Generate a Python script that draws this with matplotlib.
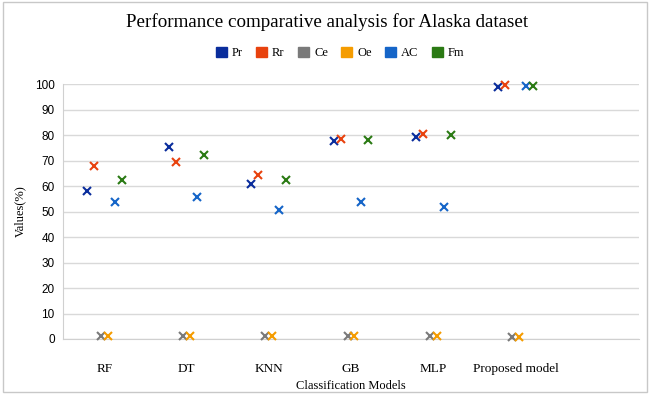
import matplotlib
matplotlib.use("Agg")
import matplotlib.pyplot as plt
import numpy as np
from matplotlib.patches import Rectangle, Patch

models = ["RF", "DT", "KNN", "GB", "MLP", "Proposed model"]
series = ["Pr", "Rr", "Ce", "Oe", "AC", "Fm"]
pr = [58.1, 75.2, 60.7, 77.7, 79.3, 98.8]
rr = [67.7, 69.4, 64.5, 78.5, 80.5, 99.6]
ce = [1.3, 1.3, 1.3, 1.3, 1.3, 0.9]
oe = [1.2, 1.2, 1.2, 1.2, 1.2, 0.8]
ac = [53.9, 55.6, 50.7, 53.8, 51.6, 99.2]
fm = [62.4, 72.3, 62.4, 77.9, 80.0, 99.3]
colors = ["#0a2d9c", "#e8420e", "#7a7a7a", "#f59c00", "#1565c8", "#2b7a14"]

values = [pr, rr, ce, oe, ac, fm]

fig = plt.figure(figsize=(6.5, 3.94), dpi=100)
fig.patch.set_facecolor("white")
fig.add_artist(Rectangle((0.004, 0.004), 0.992, 0.992, transform=fig.transFigure,
                         fill=False, edgecolor="#c8c8c8", linewidth=1.0))

ax = fig.add_axes([0.097, 0.1396, 0.886, 0.647])
ncat = 7
ax.set_xlim(-0.5, ncat - 0.5)
ax.set_ylim(0, 100)
ax.set_yticks(np.arange(0, 101, 10))
ax.yaxis.grid(True, color="#d9d9d9", linewidth=1.0)
ax.set_axisbelow(True)
for s in ["top", "right"]:
    ax.spines[s].set_visible(False)
ax.spines["left"].set_color("#d0d0d0")
ax.spines["bottom"].set_color("#d0d0d0")
ax.tick_params(axis="both", length=0)
ax.tick_params(axis="y", labelsize=8.5, pad=6)
for lbl in ax.get_yticklabels():
    lbl.set_fontfamily("Liberation Sans")

x = np.arange(len(models))
step = 0.085
for k, (name, vals, c) in enumerate(zip(series, values, colors)):
    off = (k - 2.5) * step
    ax.plot(x + off, vals, linestyle="none", marker="x", markersize=5.5,
            markeredgewidth=1.5, color=c, clip_on=False, zorder=3)

ax.set_xticks(x)
ax.set_xticklabels(models, fontfamily="Liberation Serif", fontsize=9.5)
ax.tick_params(axis="x", pad=17)
ax.set_xlabel("Classification Models", fontfamily="Liberation Serif", fontsize=9, labelpad=4)
ax.set_ylabel("Values(%)", fontfamily="Liberation Serif", fontsize=9, labelpad=6)

fig.text(0.503, 0.944, "Performance comparative analysis for Alaska dataset",
         ha="center", va="center", fontfamily="Liberation Serif", fontsize=13.7)

handles = [Patch(facecolor=c, edgecolor=c, label=n) for n, c in zip(series, colors)]
fig.legend(handles=handles, loc="center", bbox_to_anchor=(0.523, 0.866), ncol=6,
           frameon=False, prop={"family": "Liberation Serif", "size": 9},
           handlelength=0.9, handleheight=0.9, handletextpad=0.4, columnspacing=1.05)

fig.savefig("out.png", dpi=100, facecolor="white")
